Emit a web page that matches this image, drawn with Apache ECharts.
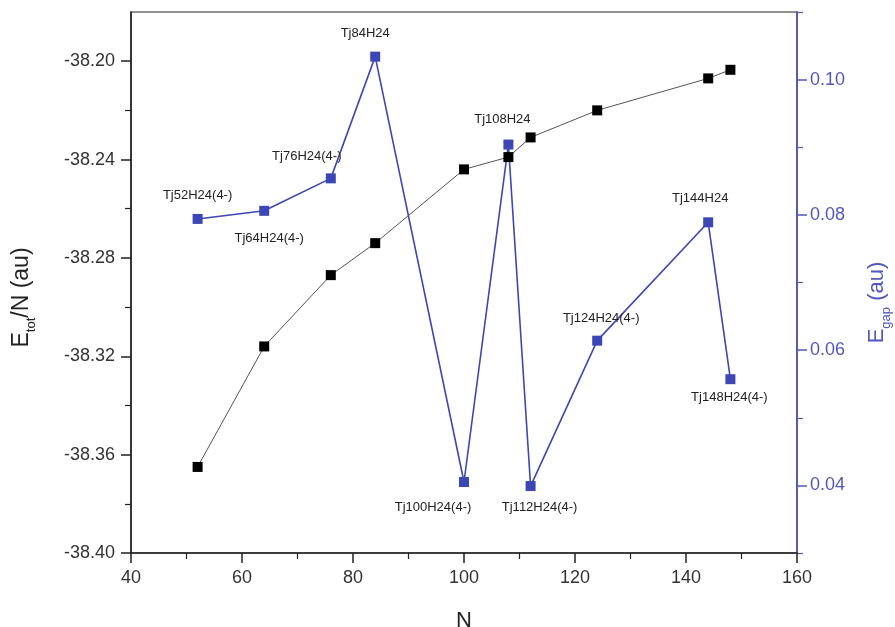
<!DOCTYPE html>
<html>
<head>
<meta charset="utf-8">
<script src="https://cdn.jsdelivr.net/npm/echarts@6/dist/echarts.min.js"></script>
<style>html,body{margin:0;padding:0;background:#fff;}#c{width:895px;height:627px;}</style>
</head>
<body>
<div id="c"></div>
<script>
const nValues = [52, 64, 76, 84, 100, 108, 112, 124, 144, 148];
const etotValues = [-38.365, -38.316, -38.287, -38.274, -38.244, -38.239, -38.231, -38.220, -38.207, -38.2035];
const egapValues = [0.0794, 0.0806, 0.0854, 0.1034, 0.0405, 0.0904, 0.0399, 0.0614, 0.0789, 0.0557];
const pointNames = ['Tj52H24(4-)', 'Tj64H24(4-)', 'Tj76H24(4-)', 'Tj84H24', 'Tj100H24(4-)', 'Tj108H24', 'Tj112H24(4-)', 'Tj124H24(4-)', 'Tj144H24', 'Tj148H24(4-)'];
const leftTicks = [-38.40, -38.36, -38.32, -38.28, -38.24, -38.20];
const leftMinorTicks = [-38.38, -38.34, -38.30, -38.26, -38.22];
const rightTicks = [0.04, 0.06, 0.08, 0.10];
const rightMinorTicks = [0.03, 0.05, 0.07, 0.09, 0.11];

// label placement (layout only)
const labelLayout = [
  ['top', [0, -7]], ['bottom', [5, 11]], ['top', [-24, -5]], ['top', [-10, -7]],
  ['bottom', [-31, 9]], ['top', [-6, -9]], ['bottom', [9, 5]], ['top', [4, -6]],
  ['top', [-8, -7]], ['bottom', [-1, 2]]
];

const BLUE = '#3c46b4';
const AXBLUE = '#5257bd';
const font = 'Liberation Sans, Arial, sans-serif';

const chart = echarts.init(document.getElementById('c'), null, {renderer: 'canvas'});

const blueData = nValues.map((n, i) => ({
  value: [n, egapValues[i]],
  label: {
    show: true,
    formatter: pointNames[i],
    position: labelLayout[i][0],
    offset: labelLayout[i][1],
    fontSize: 13,
    fontFamily: font,
    color: '#222'
  }
}));

const option = {
  animation: false,
  backgroundColor: '#fff',
  grid: {left: 131, right: 98, top: 12, bottom: 74, containLabel: false, outerBoundsMode: 'none',
    show: true, borderColor: '#222', borderWidth: 1.2, backgroundColor: 'transparent'},
  xAxis: {
    type: 'value', min: 40, max: 160, interval: 20,
    name: 'N', nameLocation: 'middle', nameGap: 57,
    nameTextStyle: {fontSize: 22, fontFamily: font, color: '#222'},
    axisLine: {show: true, onZero: false, lineStyle: {color: '#222', width: 1.5}},
    axisTick: {show: true, length: 10, lineStyle: {color: '#222', width: 1.5}},
    minorTick: {show: true, splitNumber: 2, length: 6, lineStyle: {color: '#222', width: 1.2}},
    axisLabel: {fontSize: 18, fontFamily: font, color: '#333', margin: 16},
    splitLine: {show: false}
  },
  yAxis: [
    {
      type: 'value', position: 'left', min: -38.40, max: -38.18,
      name: '{m|E}{s|tot}{m|/N (au)}', nameLocation: 'middle', nameGap: 95, nameRotate: 90,
      nameTextStyle: {fontFamily: font, color: '#222', padding: [0, 30, 0, 0], rich: {
        m: {fontSize: 23, fontFamily: font, color: '#222', lineHeight: 28, verticalAlign: 'middle'},
        s: {fontSize: 13, fontFamily: font, color: '#222', lineHeight: 28, verticalAlign: 'bottom', padding: [0, 0, -2, 0]}
      }},
      axisLine: {show: true, onZero: false, lineStyle: {color: '#222', width: 1.5}},
      axisTick: {show: true, length: 10, customValues: leftTicks, lineStyle: {color: '#222', width: 1.5}},
      axisLabel: {fontSize: 18, fontFamily: font, color: '#333', margin: 16, customValues: leftTicks,
        formatter: v => v.toFixed(2)},
      splitLine: {show: false}
    },
    {
      type: 'value', position: 'right', min: 0.03, max: 0.11,
      name: '{m|E}{s|gap}{m| (au)}', nameLocation: 'middle', nameGap: 66, nameRotate: 90,
      nameTextStyle: {fontFamily: font, color: AXBLUE, padding: [0, 40, 0, 0], rich: {
        m: {fontSize: 22, fontFamily: font, color: AXBLUE, lineHeight: 28, verticalAlign: 'middle'},
        s: {fontSize: 13, fontFamily: font, color: AXBLUE, lineHeight: 28, verticalAlign: 'bottom', padding: [0, 0, -2, 0]}
      }},
      axisLine: {show: true, onZero: false, lineStyle: {color: AXBLUE, width: 1.8}},
      axisTick: {show: true, length: 10, customValues: rightTicks, lineStyle: {color: AXBLUE, width: 1.5}},
      axisLabel: {fontSize: 18, fontFamily: font, color: AXBLUE, margin: 13, customValues: rightTicks,
        formatter: v => v.toFixed(2)},
      splitLine: {show: false}
    },
    {
      type: 'value', position: 'left', min: -38.40, max: -38.18, offset: 0,
      axisLine: {show: false}, axisLabel: {show: false}, splitLine: {show: false},
      axisTick: {show: true, length: 6, customValues: leftMinorTicks, lineStyle: {color: '#222', width: 1.2}}
    },
    {
      type: 'value', position: 'right', min: 0.03, max: 0.11, offset: 0,
      axisLine: {show: false}, axisLabel: {show: false}, splitLine: {show: false},
      axisTick: {show: true, length: 6, customValues: rightMinorTicks, lineStyle: {color: AXBLUE, width: 1.2}}
    }
  ],
  series: [
    {
      type: 'line', yAxisIndex: 1, data: blueData,
      symbol: 'rect', symbolSize: 10,
      lineStyle: {color: BLUE, width: 1.6},
      itemStyle: {color: BLUE},
      z: 2
    },
    {
      type: 'line', yAxisIndex: 0,
      data: nValues.map((n, i) => [n, etotValues[i]]),
      symbol: 'rect', symbolSize: 10,
      lineStyle: {color: '#555', width: 1},
      itemStyle: {color: '#000'},
      z: 3
    }
  ]
};
chart.setOption(option);
</script>
</body>
</html>
